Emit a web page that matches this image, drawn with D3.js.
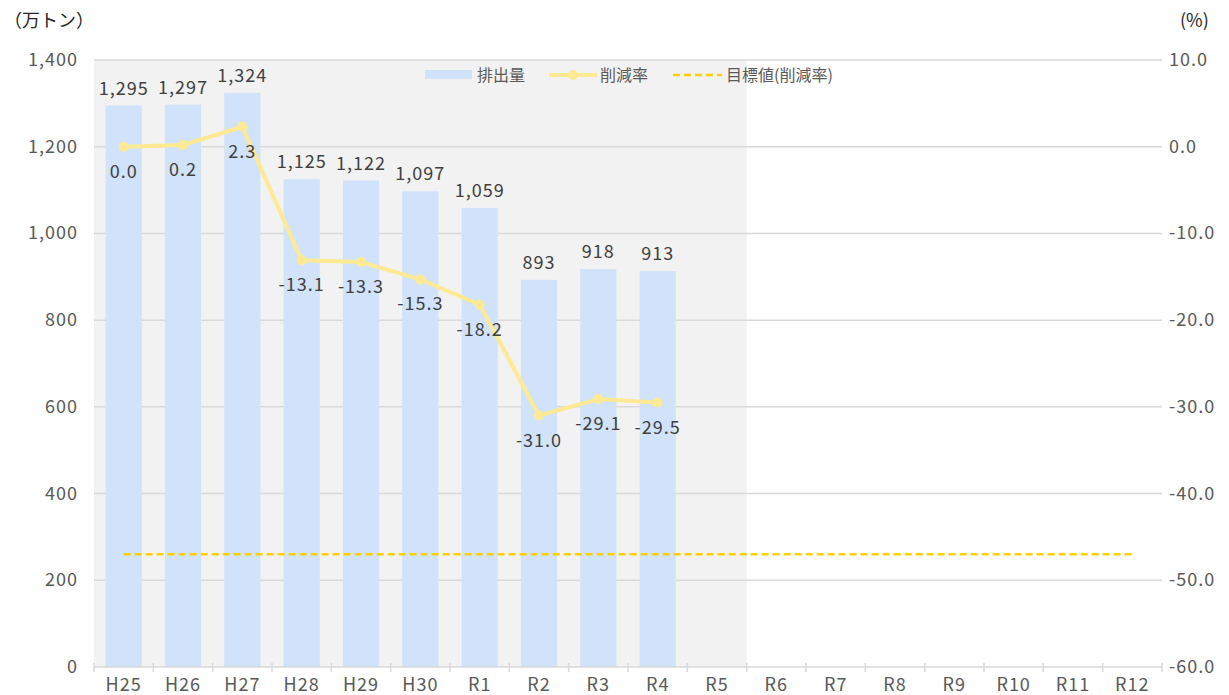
<!DOCTYPE html>
<html>
<head>
<meta charset="utf-8">
<script src="https://cdn.jsdelivr.net/npm/d3@7"></script>
<style>
  body { margin: 0; background: #fff; }
  svg { display: block; font-family: "Noto Sans CJK JP", "Noto Sans", sans-serif; }
  .num { letter-spacing: 1px; }
</style>
</head>
<body>
<svg id="chart" width="1229" height="695"></svg>
<script>
// categories and values
var years = ["H25","H26","H27","H28","H29","H30","R1","R2","R3","R4","R5","R6","R7","R8","R9","R10","R11","R12"];
var emission = [1295, 1297, 1324, 1125, 1122, 1097, 1059, 893, 918, 913];
var reduction = [0.0, 0.2, 2.3, -13.1, -13.3, -15.3, -18.2, -31.0, -29.1, -29.5];
var target = -47;
var leftTicks = [0, 200, 400, 600, 800, 1000, 1200, 1400];
var rightTicks = [10, 0, -10, -20, -30, -40, -50, -60];
var shadedYears = years.slice(0, 11); // H25..R5

var svg = d3.select("#chart");
var plotLeft = 94, plotRight = 1162, plotTop = 60, plotBottom = 667;

var x = d3.scaleBand().domain(years).range([plotLeft, plotRight]).paddingInner(0.39).paddingOuter(0.195);
var xb = d3.scaleBand().domain(years).range([plotLeft, plotRight]);
var y = d3.scaleLinear().domain([0, 1400]).range([plotBottom, plotTop]);
var y2 = d3.scaleLinear().domain([-60, 10]).range([plotBottom, plotTop]);
var fmt = d3.format(",");
var fmt1 = function (d) { return d3.format(".1f")(d).replace("−", "-"); };
var cx = function (d, i) { return xb(years[i]) + xb.bandwidth() / 2; };

// shaded actuals area
svg.append("rect")
    .attr("x", xb(shadedYears[0]))
    .attr("y", plotTop)
    .attr("width", xb(shadedYears[shadedYears.length - 1]) + xb.bandwidth() - xb(shadedYears[0]))
    .attr("height", plotBottom - plotTop)
    .attr("fill", "#f2f2f2");

// gridlines
svg.append("g").selectAll("line")
    .data(leftTicks.slice(1))
    .enter().append("line")
    .attr("x1", plotLeft).attr("x2", plotRight)
    .attr("y1", function (d) { return y(d); })
    .attr("y2", function (d) { return y(d); })
    .attr("stroke", "#d9d9d9").attr("stroke-width", 1.5);

// bars
svg.append("g").selectAll("rect")
    .data(emission)
    .enter().append("rect")
    .attr("x", function (d, i) { return x(years[i]); })
    .attr("y", function (d) { return y(d); })
    .attr("width", x.bandwidth())
    .attr("height", function (d) { return plotBottom - y(d); })
    .attr("fill", "#d0e3fa");

// x axis
svg.append("line")
    .attr("x1", plotLeft).attr("x2", plotRight)
    .attr("y1", plotBottom).attr("y2", plotBottom)
    .attr("stroke", "#d9d9d9").attr("stroke-width", 1.5);
svg.append("g").selectAll("line")
    .data(years.concat(["end"]))
    .enter().append("line")
    .attr("x1", function (d, i) { return plotLeft + i * xb.bandwidth(); })
    .attr("x2", function (d, i) { return plotLeft + i * xb.bandwidth(); })
    .attr("y1", plotBottom - 4).attr("y2", plotBottom + 5)
    .attr("stroke", "#d9d9d9").attr("stroke-width", 1.5);
svg.append("g").attr("class", "num").selectAll("text")
    .data(years)
    .enter().append("text")
    .attr("x", function (d) { return xb(d) + xb.bandwidth() / 2; })
    .attr("y", plotBottom + 24)
    .attr("text-anchor", "middle")
    .attr("font-size", 18).attr("fill", "#595959")
    .text(function (d) { return d; });

// left axis labels
svg.append("g").attr("class", "num").selectAll("text")
    .data(leftTicks)
    .enter().append("text")
    .attr("x", 78)
    .attr("y", function (d) { return y(d) + 6; })
    .attr("text-anchor", "end")
    .attr("font-size", 18).attr("fill", "#595959")
    .text(function (d) { return fmt(d); });

// right axis labels
svg.append("g").attr("class", "num").selectAll("text")
    .data(rightTicks)
    .enter().append("text")
    .attr("x", 1169)
    .attr("y", function (d) { return y2(d) + 6; })
    .attr("font-size", 18).attr("fill", "#595959")
    .text(function (d) { return fmt1(d); });

// axis titles
svg.append("text").attr("x", 4).attr("y", 27)
    .attr("font-size", 18).attr("fill", "#262626").text("（万トン）");
svg.append("text").attr("x", 1180).attr("y", 27)
    .attr("font-size", 18).attr("fill", "#262626").text("(%)");

// target dashed line
svg.append("line")
    .attr("x1", xb(years[0]) + xb.bandwidth() / 2)
    .attr("x2", xb(years[years.length - 1]) + xb.bandwidth() / 2)
    .attr("y1", y2(target)).attr("y2", y2(target))
    .attr("stroke", "#ffd000").attr("stroke-width", 2.5)
    .attr("stroke-dasharray", "7,4");

// reduction line
var line = d3.line()
    .x(cx)
    .y(function (d) { return y2(d); });
svg.append("path")
    .datum(reduction)
    .attr("d", line)
    .attr("fill", "none")
    .attr("stroke", "#ffe993").attr("stroke-width", 4)
    .attr("stroke-linejoin", "round");
svg.append("g").selectAll("circle")
    .data(reduction)
    .enter().append("circle")
    .attr("cx", cx)
    .attr("cy", function (d) { return y2(d); })
    .attr("r", 5)
    .attr("fill", "#ffe993");

// bar labels
svg.append("g").attr("class", "num").selectAll("text")
    .data(emission)
    .enter().append("text")
    .attr("x", cx)
    .attr("y", function (d) { return y(d) - 11; })
    .attr("text-anchor", "middle")
    .attr("font-size", 18).attr("fill", "#404040")
    .text(function (d) { return fmt(d); });

// line labels
svg.append("g").attr("class", "num").selectAll("text")
    .data(reduction)
    .enter().append("text")
    .attr("x", cx)
    .attr("y", function (d) { return y2(d) + 31; })
    .attr("text-anchor", "middle")
    .attr("font-size", 18).attr("fill", "#404040")
    .text(function (d) { return fmt1(d); });

// legend
var lg = svg.append("g").attr("font-size", 16).attr("fill", "#595959");
lg.append("rect").attr("x", 425).attr("y", 70).attr("width", 47).attr("height", 9).attr("fill", "#d0e3fa");
lg.append("text").attr("x", 477).attr("y", 81).text("排出量");
lg.append("line").attr("x1", 549).attr("x2", 597).attr("y1", 75).attr("y2", 75)
    .attr("stroke", "#ffe993").attr("stroke-width", 4);
lg.append("circle").attr("cx", 573).attr("cy", 75).attr("r", 5).attr("fill", "#ffe993");
lg.append("text").attr("x", 600).attr("y", 81).text("削減率");
lg.append("line").attr("x1", 673).attr("x2", 722).attr("y1", 75).attr("y2", 75)
    .attr("stroke", "#ffd000").attr("stroke-width", 2.5).attr("stroke-dasharray", "7,4");
lg.append("text").attr("x", 726).attr("y", 81).text("目標値(削減率)");
</script>
</body>
</html>
